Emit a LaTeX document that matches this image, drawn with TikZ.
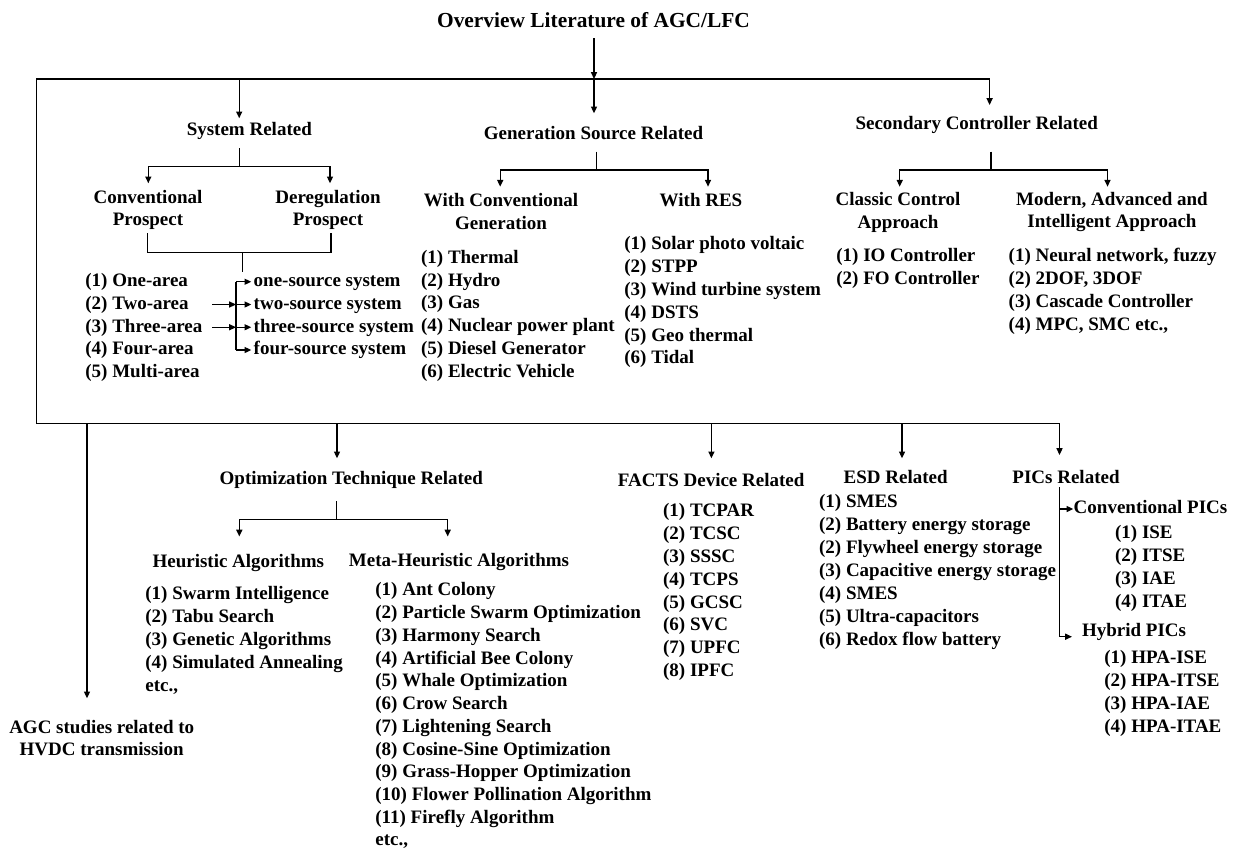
\documentclass[tikz,border=0pt]{standalone}
\usepackage{fontspec}
\setmainfont{Liberation Serif}
\usetikzlibrary{arrows.meta}

\begin{document}
\begin{tikzpicture}[x=0.5pt,y=-0.5pt,
    every node/.style={inner sep=0pt,font=\fontsize{9.5}{11.3}\selectfont\bfseries},
    head/.style={align=center},
    item/.style={anchor=west,text height=6.6pt,text depth=1.7pt},
    ln/.style={line width=0.7pt},
    arr/.style={ln,-{Triangle[length=3.4pt,width=3pt]}}]
  \useasboundingbox (0,0) rectangle (1235,851);

  % title and frame
  \node (title) at (593.5,19.7) {\fontsize{10.7}{12}\selectfont Overview Literature of AGC/LFC};
  \draw[arr] (594,38.3) -- (594,79);
  \draw[arr] (36.4,79) -| (989.6,105);
  \draw[arr] (36.4,79) |- (1059.5,423.3) -- (1059.5,455);
  \draw[arr] (239.2,79) -- (239.2,118.3);
  \draw[arr] (594,79) -- (594,113.3);

  % upper categories
  \node (sys) at (249.3,131) {System Related};
  \node (gen) at (593.5,133.3) {Generation Source Related};
  \node (sec) at (976.7,125) {Secondary Controller Related};

  \draw[ln] (239.2,148.3) -- (239.2,166.7);
  \draw[arr] (239.2,166.7) -| (148.3,183.3);
  \draw[arr] (239.2,166.7) -| (330,183.3);
  \draw[ln] (596.7,151.7) -- (596.7,170);
  \draw[arr] (596.7,170) -| (500.2,186.7);
  \draw[arr] (596.7,170) -| (708,186.7);
  \draw[ln] (990.8,151.7) -- (990.8,170);
  \draw[arr] (990.8,170) -| (899.7,186.7);
  \draw[arr] (990.8,170) -| (1107.5,186.7);

  \node[head] (conv) at (148,210) {Conventional\\Prospect};
  \node[head] (dereg) at (328,210) {Deregulation\\Prospect};
  \node[head] (wconv) at (501,211.5) {With Conventional\\Generation};
  \node (wres) at (701,200) {With RES};
  \node[head] (classic) at (898,212.5) {Classic Control\\Approach};
  \node[head] (modern) at (1112,212) {Modern, Advanced and\\Intelligent Approach};

  % system related lists
  \draw[ln] (147.7,233) |- (331,252.7) -- (331,233);
  \draw[ln] (242.7,252.7) -- (242.7,271.7);
  \foreach \t [count=\i] in {(1) One-area,(2) Two-area,(3) Three-area,(4) Four-area,(5) Multi-area}
    \node[item] (area\i) at (85,259+22.75*\i) {\t};
  \foreach \t [count=\i] in {one-source system,two-source system,three-source system,four-source system}
    \node[item] (src\i) at (253.3,259+22.75*\i) {\t};
  \coordinate (br) at (236,0);
  \coordinate (tw) at (212,0);
  \draw[ln] (src1 -| br) -- (src4 -| br);
  \foreach \i in {1,...,4}
    \draw[arr,shorten >=1pt] (src\i -| br) -- (src\i.west);
  \draw[arr] (area2 -| tw) -- (area2 -| br);
  \draw[arr] (area3 -| tw) -- (area3 -| br);

  % generation source lists
  \foreach \t [count=\i] in {(1) Thermal,(2) Hydro,(3) Gas,(4) Nuclear power plant,(5) Diesel Generator,(6) Electric Vehicle}
    \node[item] (cgen\i) at (420.7,235.4+22.88*\i) {\t};
  \foreach \t [count=\i] in {(1) Solar photo voltaic,(2) STPP,(3) Wind turbine system,(4) DSTS,(5) Geo thermal,(6) Tidal}
    \node[item] (res\i) at (624,222.2+22.8*\i) {\t};

  % controller lists
  \foreach \t [count=\i] in {(1) IO Controller,(2) FO Controller}
    \node[item] (cls\i) at (836,234+22.7*\i) {\t};
  \foreach \t [count=\i] in {{(1) Neural network, fuzzy},{(2) 2DOF, 3DOF},(3) Cascade Controller,{(4) MPC, SMC etc.,}}
    \node[item] (mod\i) at (1008.3,234+22.8*\i) {\t};

  % lower categories
  \draw[arr] (87,423.3) -- (87,698.3);
  \draw[arr] (337,423.3) -- (337,458.3);
  \draw[arr] (711.4,423.3) -- (711.4,458.3);
  \draw[arr] (902,423.3) -- (902,458.3);

  \node[head] (hvdc) at (101.7,738) {AGC studies related to\\HVDC transmission};
  \node (opt) at (351.3,480) {Optimization Technique Related};
  \node (facts) at (711.2,480) {FACTS Device Related};
  \node (esd) at (895.7,476.7) {ESD Related};
  \node (pics) at (1066,476.7) {PICs Related};

  \draw[ln] (336.7,501) -- (336.7,519.3);
  \draw[arr] (336.7,519.3) -| (239.3,536.5);
  \draw[arr] (336.7,519.3) -| (447.7,536.5);
  \node (heu) at (238.3,563.3) {Heuristic Algorithms};
  \node (meta) at (459,561.7) {Meta-Heuristic Algorithms};

  \foreach \t [count=\i] in {(1) Swarm Intelligence,(2) Tabu Search,(3) Genetic Algorithms,(4) Simulated Annealing,{etc.,}}
    \node[item] (heul\i) at (145,572.1+22.9*\i) {\t};
  \foreach \t [count=\i] in {(1) Ant Colony,(2) Particle Swarm Optimization,(3) Harmony Search,(4) Artificial Bee Colony,(5) Whale Optimization,(6) Crow Search,(7) Lightening Search,(8) Cosine-Sine Optimization,(9) Grass-Hopper Optimization,(10) Flower Pollination Algorithm,(11) Firefly Algorithm,{etc.,}}
    \node[item] (metal\i) at (375,568.3+22.73*\i) {\t};
  \foreach \t [count=\i] in {(1) TCPAR,(2) TCSC,(3) SSSC,(4) TCPS,(5) GCSC,(6) SVC,(7) UPFC,(8) IPFC}
    \node[item] (facl\i) at (662.7,488.85+22.86*\i) {\t};
  \foreach \t [count=\i] in {(1) SMES,(2) Battery energy storage,(2) Flywheel energy storage,(3) Capacitive energy storage,(4) SMES,(5) Ultra-capacitors,(6) Redox flow battery}
    \node[item] (esdl\i) at (818.7,479.8+22.9*\i) {\t};

  % performance indices
  \node[item] (cpic) at (1073.3,509) {Conventional PICs};
  \node[item] (hpic) at (1081.7,631.7) {Hybrid PICs};
  \draw[arr] (1059.3,487.3) |- (1072,636.7);
  \draw[arr] (1059.3,509) -- (cpic.west);
  \foreach \t [count=\i] in {(1) ISE,(2) ITSE,(3) IAE,(4) ITAE}
    \node[item] (cpl\i) at (1114.7,511.1+22.9*\i) {\t};
  \foreach \t [count=\i] in {(1) HPA-ISE,(2) HPA-ITSE,(3) HPA-IAE,(4) HPA-ITAE}
    \node[item] (hpl\i) at (1104,636.1+22.9*\i) {\t};
\end{tikzpicture}
\end{document}
